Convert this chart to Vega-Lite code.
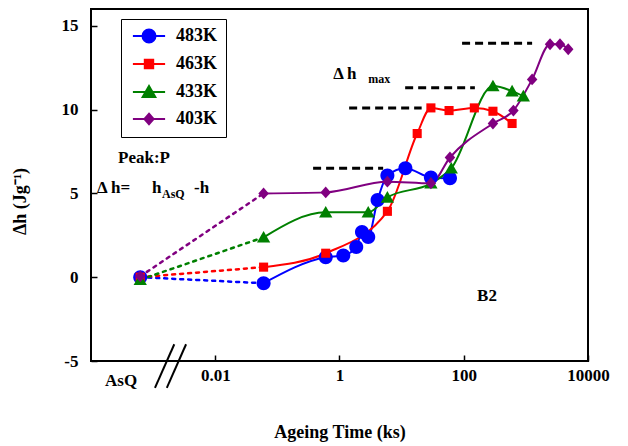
{
  "$schema": "https://vega.github.io/schema/vega-lite/v6.json",
  "width": 497,
  "height": 352,
  "autosize": {"type": "none"},
  "padding": {"left": 91, "top": 9, "right": 40, "bottom": 85},
  "background": "white",
  "config": {"view": {"stroke": "black", "strokeWidth": 2}, "font": "Liberation Serif"},
  "datasets": {
    "pts": [
      {"s": "483K", "t": 0.00062, "dh": 0},
      {"s": "483K", "t": 0.06, "dh": -0.36},
      {"s": "483K", "t": 0.6, "dh": 1.19},
      {"s": "483K", "t": 1.15, "dh": 1.3},
      {"s": "483K", "t": 1.86, "dh": 1.8},
      {"s": "483K", "t": 2.3, "dh": 2.7},
      {"s": "483K", "t": 2.9, "dh": 2.4},
      {"s": "483K", "t": 4.1, "dh": 4.6},
      {"s": "483K", "t": 5.9, "dh": 6.07},
      {"s": "483K", "t": 11.5, "dh": 6.5},
      {"s": "483K", "t": 29.6, "dh": 5.95},
      {"s": "483K", "t": 60, "dh": 5.9},
      {"s": "463K", "t": 0.00062, "dh": 0},
      {"s": "463K", "t": 0.06, "dh": 0.6},
      {"s": "463K", "t": 0.6, "dh": 1.43},
      {"s": "463K", "t": 5.9, "dh": 3.93},
      {"s": "463K", "t": 17.8, "dh": 8.57},
      {"s": "463K", "t": 29.6, "dh": 10.1},
      {"s": "463K", "t": 58, "dh": 9.94},
      {"s": "463K", "t": 148, "dh": 10.1},
      {"s": "463K", "t": 295, "dh": 9.9},
      {"s": "463K", "t": 600, "dh": 9.17},
      {"s": "433K", "t": 0.00062, "dh": -0.15},
      {"s": "433K", "t": 0.06, "dh": 2.38},
      {"s": "433K", "t": 0.6, "dh": 3.87},
      {"s": "433K", "t": 2.9, "dh": 3.87},
      {"s": "433K", "t": 5.9, "dh": 4.76},
      {"s": "433K", "t": 29.6, "dh": 5.6},
      {"s": "433K", "t": 63, "dh": 6.5},
      {"s": "433K", "t": 295, "dh": 11.4},
      {"s": "433K", "t": 600, "dh": 11.1},
      {"s": "433K", "t": 910, "dh": 10.8},
      {"s": "403K", "t": 0.00062, "dh": 0.05},
      {"s": "403K", "t": 0.06, "dh": 5.0},
      {"s": "403K", "t": 0.6, "dh": 5.06},
      {"s": "403K", "t": 5.9, "dh": 5.7},
      {"s": "403K", "t": 29.6, "dh": 5.6},
      {"s": "403K", "t": 60, "dh": 7.14},
      {"s": "403K", "t": 295, "dh": 9.17},
      {"s": "403K", "t": 630, "dh": 9.94},
      {"s": "403K", "t": 1260, "dh": 11.8},
      {"s": "403K", "t": 2450, "dh": 13.9},
      {"s": "403K", "t": 3540, "dh": 13.9},
      {"s": "403K", "t": 4800, "dh": 13.6}
    ],
    "dmax": [
      {"t1": 0.376, "t2": 5.04, "dh": 6.5},
      {"t1": 1.43, "t2": 21, "dh": 10.1},
      {"t1": 11.4, "t2": 151, "dh": 11.3},
      {"t1": 94, "t2": 1260, "dh": 13.95}
    ],
    "brk": [
      {"t1": 0.00107, "t2": 0.00219, "y1": -6.6, "y2": -4.0},
      {"t1": 0.00166, "t2": 0.00339, "y1": -6.6, "y2": -4.0}
    ],
    "big": [
      {"t": 0.000272, "dh": 7.14, "txt": "Peak:P"},
      {"t": 0.000125, "dh": 5.3, "txt": "Δ h="},
      {"t": 0.00096, "dh": 5.3, "txt": "h"},
      {"t": 0.00456, "dh": 5.3, "txt": "-h"},
      {"t": 0.79, "dh": 12.14, "txt": "Δ h"},
      {"t": 164, "dh": -1.13, "txt": "B2"},
      {"t": 0.000168, "dh": -6.19, "txt": "AsQ"}
    ],
    "sub": [
      {"t": 0.00139, "dh": 4.95, "txt": "AsQ"},
      {"t": 2.89, "dh": 11.8, "txt": "max"}
    ]
  },
  "layer": [
    {
      "data": {"name": "pts"},
      "transform": [{"filter": "datum.t < 0.1"}],
      "mark": {"type": "line", "strokeDash": [3, 5], "strokeWidth": 2.5, "strokeCap": "round"},
      "encoding": {
        "x": {"field": "t", "type": "quantitative", "scale": {"type": "log", "domain": [0.0001, 10000]},
          "axis": {"values": [0.01, 1, 100, 10000], "labelExpr": "datum.value == 0.01 ? '0.01' : format(datum.value, 'd')",
            "tickSize": -6, "tickColor": "black", "tickWidth": 1.5, "domain": false, "grid": false,
            "labelFont": "Liberation Serif", "labelFontWeight": "bold", "labelFontSize": 17, "labelColor": "black",
            "labelPadding": 12, "labelFlush": false,
            "title": "Ageing Time (ks)", "titleFont": "Liberation Serif", "titleFontSize": 18, "titleFontWeight": "bold", "titleColor": "black", "titlePadding": 40}},
        "y": {"field": "dh", "type": "quantitative", "scale": {"domain": [-5, 16], "nice": false, "zero": false},
          "axis": {"values": [-5, 0, 5, 10, 15], "labelExpr": "'' + datum.value",
            "tickSize": -6, "tickColor": "black", "tickWidth": 1.5, "domain": false, "grid": false,
            "labelFont": "Liberation Serif", "labelFontWeight": "bold", "labelFontSize": 17, "labelColor": "black",
            "labelPadding": 19, "labelFlush": false,
            "title": "Δh (Jg⁻¹)", "titleFont": "Liberation Serif", "titleFontSize": 18, "titleFontWeight": "bold", "titleColor": "black",
            "titleX": -71, "titleY": 192, "titleAngle": 270, "titleAlign": "center", "titleBaseline": "middle"}},
        "color": {"field": "s", "type": "nominal", "scale": {"domain": ["483K", "463K", "433K", "403K"], "range": ["#0000FF", "#FF0000", "#008000", "#800080"]},
          "legend": {"title": null, "orient": "none", "legendX": 30, "legendY": 10,
            "strokeColor": "black", "fillColor": "white", "padding": 8, "symbolSize": 196, "symbolOffset": 11,
            "labelFont": "Liberation Serif", "labelFontWeight": "bold", "labelFontSize": 18, "labelColor": "black",
            "labelOffset": 18, "rowPadding": 8, "symbolStrokeWidth": 2, "symbolType": "circle",
            "encode": {"symbols": {"update": {
              "shape": {"signal": "datum.value == '483K' ? 'M-2.3,0H2.3M0.93,0A0.93,0.93 0 1,1 -0.93,0A0.93,0.93 0 1,1 0.93,0Z' : datum.value == '463K' ? 'M-2.3,0H2.3M-0.6,-0.6H0.6V0.6H-0.6Z' : datum.value == '433K' ? 'M-2.3,0H2.3M0,-0.86L0.9,0.7L-0.9,0.7Z' : 'M-2.3,0H2.3M0,-0.75L0.65,0L0,0.75L-0.65,0Z'"},
              "stroke": {"signal": "scale('color', datum.value)"},
              "fill": {"signal": "scale('color', datum.value)"},
              "strokeDash": {"value": []},
              "strokeWidth": {"value": 2},
              "opacity": {"value": 1},
              "size": {"value": 196}
            }}}}},
        "detail": {"field": "s"}
      }
    },
    {
      "data": {"name": "pts"},
      "transform": [{"filter": "datum.t > 0.001"}],
      "mark": {"type": "line", "strokeWidth": 2, "interpolate": "monotone"},
      "encoding": {
        "x": {"field": "t", "type": "quantitative"},
        "y": {"field": "dh", "type": "quantitative"},
        "color": {"field": "s", "type": "nominal"},
        "detail": {"field": "s"}
      }
    },
    {
      "data": {"name": "pts"},
      "mark": {"type": "point", "filled": true, "opacity": 1, "size": 196, "strokeWidth": 0},
      "encoding": {
        "x": {"field": "t", "type": "quantitative"},
        "y": {"field": "dh", "type": "quantitative"},
        "color": {"field": "s", "type": "nominal"},
        "shape": {"field": "s", "type": "nominal", "legend": null,
          "scale": {"domain": ["403K", "433K", "463K", "483K"],
            "range": ["M0,-0.85L0.75,0L0,0.85L-0.75,0Z", "M0,-0.9L0.95,0.75L-0.95,0.75Z", "M-0.65,-0.65H0.65V0.65H-0.65Z", "M1,0A1,1 0 1,1 -1,0A1,1 0 1,1 1,0Z"]}}
      }
    },
    {
      "data": {"name": "dmax"},
      "mark": {"type": "rule", "color": "black", "strokeWidth": 3, "strokeDash": [8, 5]},
      "encoding": {
        "x": {"field": "t1", "type": "quantitative"},
        "x2": {"field": "t2"},
        "y": {"field": "dh", "type": "quantitative"}
      }
    },
    {
      "data": {"name": "brk"},
      "mark": {"type": "rule", "color": "black", "strokeWidth": 2, "clip": false},
      "encoding": {
        "x": {"field": "t1", "type": "quantitative"},
        "x2": {"field": "t2"},
        "y": {"field": "y1", "type": "quantitative"},
        "y2": {"field": "y2"}
      }
    },
    {
      "data": {"name": "big"},
      "mark": {"type": "text", "align": "left", "baseline": "middle", "font": "Liberation Serif", "fontWeight": "bold", "fontSize": 17, "color": "black", "clip": false},
      "encoding": {
        "x": {"field": "t", "type": "quantitative"},
        "y": {"field": "dh", "type": "quantitative"},
        "text": {"field": "txt"}
      }
    },
    {
      "data": {"name": "sub"},
      "mark": {"type": "text", "align": "left", "baseline": "middle", "font": "Liberation Serif", "fontWeight": "bold", "fontSize": 12, "color": "black", "clip": false},
      "encoding": {
        "x": {"field": "t", "type": "quantitative"},
        "y": {"field": "dh", "type": "quantitative"},
        "text": {"field": "txt"}
      }
    }
  ]
}
